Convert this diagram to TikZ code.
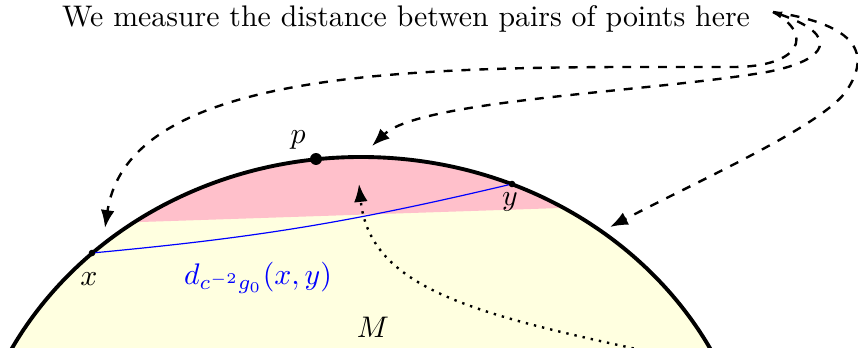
\documentclass[tikz,border=0pt]{standalone}
\usepackage{xcolor}
\usepackage{tikz}
\usetikzlibrary{arrows.meta}
\definecolor{bulkyellow}{HTML}{FFFFE0}
\definecolor{cappink}{HTML}{FFC0CB}

\begin{document}
\begin{tikzpicture}[x=0.3356pt,y=-0.3356pt,
        lbl/.style={inner sep=0pt},
        pointer/.style={dashed,thick,-{Latex[length=6pt,width=4.6pt]}},
        dot/.style={fill=black}]
      \useasboundingbox (0,0) rectangle (858,348);
      \clip (0,0) rectangle (858,348);
      %% ── Manifold M and its pink cap ──────────────────────
      \fill[bulkyellow] (361,517) ellipse [x radius=395,y radius=360];
      \begin{scope}
        \clip (361,517) ellipse [x radius=395,y radius=360];
        \fill[cappink] (0,0) -- (858,0) -- (858,198.1) -- (0,226.7) -- cycle;
      \end{scope}
      \draw[line width=1.3pt] (361,517) ellipse [x radius=395,y radius=360];
      %% ── Points on the boundary ───────────────────────────
      \coordinate (x) at (92,253);
      \coordinate (y) at (512,184);
      \coordinate (p) at (316,159);
      \draw[blue,thin] (x) to[bend right=4] (y);
      \fill[dot] (p) circle [radius=2pt];
      \fill[dot] (x) circle [radius=1.1pt];
      \fill[dot] (y) circle [radius=1.1pt];
      \node[lbl] (pl) at (298,140) {$p$};
      \node[lbl] (xl) at (89,279) {$x$};
      \node[lbl] (yl) at (510,202) {$y$};
      \node[lbl] (ml) at (373,327) {$M$};
      \node[lbl,text=blue] (dl) at (258,278) {$d_{c^{-2}g_0}(x,y)$};
      %% ── Caption and its pointers ─────────────────────────
      \node[anchor=base,inner sep=0pt] (txt) at (406,27)
            {We measure the distance betwen pairs of points here};
      \coordinate (src) at (773,12);
      \coordinate (tx) at (105,228);
      \coordinate (tp) at (372,146);
      \coordinate (ty) at (610,227);
      \draw[pointer] (src) .. controls (815,35) and (800,67) .. (733,67)
            .. controls (450,67) and (130,60) .. (tx);
      \draw[pointer,{Latex[length=3pt,width=2.5pt]}-{Latex[length=6pt,width=4.6pt]}]
            (src) .. controls (840,35) and (830,60) .. (767,72)
            .. controls (650,92) and (420,100) .. (tp);
      \draw[pointer] (src) .. controls (860,25) and (870,55) .. (847,90)
            .. controls (824,125) and (700,180) .. (ty);
      %% ── Dotted arrow into the cap ────────────────────────
      \coordinate (low) at (650,352);
      \coordinate (up) at (359,184);
      \draw[dotted,thick,-{Latex[length=6pt,width=4.6pt]}]
            (low) .. controls (480,315) and (370,290) .. (up);
    \end{tikzpicture}
\end{document}
